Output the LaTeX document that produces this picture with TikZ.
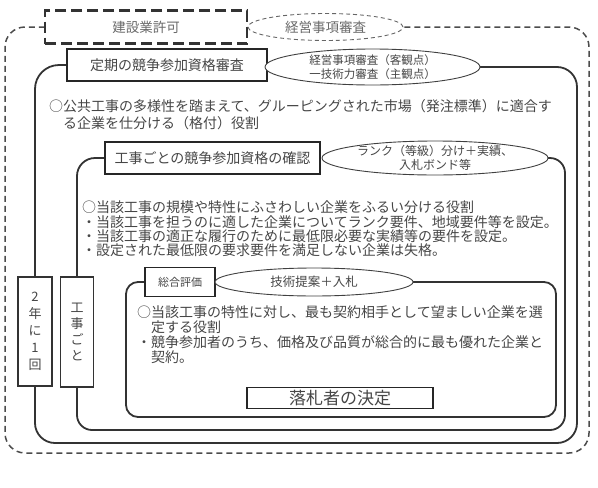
\documentclass[tikz,border=0pt]{standalone}
\usepackage{fontspec}
\setmainfont{Noto Sans CJK JP}
\usetikzlibrary{shapes.geometric}
\definecolor{ink}{HTML}{464646}
\definecolor{linec}{HTML}{333333}
\definecolor{pale}{HTML}{6A6A6A}
\tikzset{
  body/.style={anchor=west, inner sep=0pt, text=ink, font=\fontsize{14}{14}\selectfont},
  boxnode/.style={draw=black!85, line width=1.8pt, fill=white, inner sep=0pt, text=ink},
  ellnode/.style={ellipse, draw=black!75, line width=0.9pt, fill=white, inner sep=0pt},
  lvl/.style={draw=linec, line width=1.8pt},
  outerline/.style={draw=black!70, line width=1.5pt, dash pattern=on 6pt off 4pt},
  vbox/.style={draw=black!80, line width=1.6pt, fill=white, inner sep=1pt, align=center, text=ink, font=\fontsize{13}{17}\selectfont}
}
\begin{document}
\begin{tikzpicture}[x=1pt,y=-1pt]
\useasboundingbox (0,0) rectangle (598,488);

% centres of the main nodes
\coordinate (pb0) at (146,27);
\coordinate (pe0) at (325.5,27);
\coordinate (pb1) at (167,65);
\coordinate (pe1) at (372.5,67);
\coordinate (pb2) at (212.5,158);
\coordinate (pe2) at (435,158);
\coordinate (pb3) at (180,282);
\coordinate (pe3) at (314,282);

% invisible placeholders that give the connectors their anchors
\node[ellipse, inner sep=0pt, minimum width=155pt, minimum height=27pt] (e0) at (pe0) {};
\node[inner sep=0pt, minimum width=202pt, minimum height=33pt] (b0) at (pb0) {};
\node[inner sep=0pt, minimum width=200pt, minimum height=32pt] (b1) at (pb1) {};
\node[ellipse, inner sep=0pt, minimum width=215pt, minimum height=36pt] (e1) at (pe1) {};
\node[inner sep=0pt, minimum width=215pt, minimum height=32pt] (b2) at (pb2) {};
\node[ellipse, inner sep=0pt, minimum width=226pt, minimum height=34pt] (e2) at (pe2) {};
\node[inner sep=0pt, minimum width=70pt, minimum height=29pt] (b3) at (pb3) {};
\node[ellipse, inner sep=0pt, minimum width=198pt, minimum height=28pt] (e3) at (pe3) {};
\node[inner sep=0pt, minimum width=34pt, minimum height=109pt] (v1) at (35,331.5) {};
\node[inner sep=0pt, minimum width=33pt, minimum height=110pt] (v2) at (77,332) {};

% connectors
\draw[outerline, rounded corners=20pt] (b0.west) -- (5,27) -- (5,453) -- (589,453) -- (589,27) -- (e0.east);
\draw[lvl, rounded corners=24pt] (b1.west) -- (35,65) -- (v1.north);
\draw[lvl, rounded corners=20pt] (v1.south) -- (35,443) -- (577,443) -- (577,67) -- (e1.east);
\draw[lvl, rounded corners=18pt] (b2.west) -- (77,158) -- (v2.north);
\draw[lvl, rounded corners=15pt] (v2.south) -- (77,430) -- (565,430) -- (565,158) -- (e2.east);
\draw[lvl, rounded corners=12pt] (b3.west) -- (126,282) -- (126,417) -- (556,417) -- (556,282) -- (e3.east);

% visible shapes
\node[draw=black!80, line width=2.4pt, dash pattern=on 11pt off 5pt, fill=white, inner sep=0pt,
      minimum width=202pt, minimum height=33pt, text=pale, font=\fontsize{13.5}{13.5}\selectfont]
      (b0s) at (pb0) {建設業許可};
\node[ellipse, draw=black!60, line width=0.9pt, dash pattern=on 4pt off 3pt, fill=white, inner sep=0pt,
      minimum width=155pt, minimum height=27pt] (e0s) at (pe0) {};
\node[text=pale, font=\fontsize{13.5}{13.5}\selectfont, inner sep=0pt] (e0t) at (pe0) {経営事項審査};

\node[boxnode, minimum width=200pt, minimum height=32pt, font=\fontsize{14}{14}\selectfont] (b1s) at (pb1) {定期の競争参加資格審査};
\node[ellnode, minimum width=215pt, minimum height=36pt] (e1s) at (pe1) {};
\node[align=center, inner sep=0pt, text=ink, font=\fontsize{11.5}{14.5}\selectfont] (e1t) at (pe1) {経営事項審査（客観点）\\一技術力審査（主観点）};

\node[boxnode, minimum width=215pt, minimum height=32pt, font=\fontsize{14}{14}\selectfont] (b2s) at (pb2) {工事ごとの競争参加資格の確認};
\node[ellnode, minimum width=226pt, minimum height=34pt] (e2s) at (pe2) {};
\node[align=center, inner sep=0pt, text=ink, font=\fontsize{12}{14.5}\selectfont] (e2t) at (pe2) {ランク（等級）分け＋実績、\\入札ボンド等};

\node[boxnode, minimum width=70pt, minimum height=29pt, font=\fontsize{11}{11}\selectfont] (b3s) at (pb3) {総合評価};
\node[ellnode, minimum width=198pt, minimum height=28pt] (e3s) at (pe3) {};
\node[inner sep=0pt, text=ink, font=\fontsize{12.5}{12.5}\selectfont] (e3t) at (pe3) {技術提案＋入札};

\node[vbox, minimum width=34pt, minimum height=109pt] (v1s) at (35,331.5) {2\\年\\に\\1\\回};
\node[vbox, minimum width=33pt, minimum height=110pt, font=\fontsize{13}{16}\selectfont] (v2s) at (77,332) {工\\事\\ご\\と};

\node[boxnode, minimum width=186pt, minimum height=21pt, font=\fontsize{17}{17}\selectfont] (b4) at (340,398) {落札者の決定};

% body text
\node[body] (t1a) at (49,106) {○公共工事の多様性を踏まえて、グルーピングされた市場（発注標準）に適合す};
\node[body] (t1b) at (63,123) {る企業を仕分ける（格付）役割};

\node[body] (t2a) at (82,207) {○当該工事の規模や特性にふさわしい企業をふるい分ける役割};
\node[body] (t2b) at (82,222) {・当該工事を担うのに適した企業についてランク要件、地域要件等を設定。};
\node[body] (t2c) at (82,236) {・当該工事の適正な履行のために最低限必要な実績等の要件を設定。};
\node[body] (t2d) at (82,250) {・設定された最低限の要求要件を満足しない企業は失格。};

\node[body] (t3a) at (137,312) {○当該工事の特性に対し、最も契約相手として望ましい企業を選};
\node[body] (t3b) at (151,327) {定する役割};
\node[body] (t3c) at (137,342) {・競争参加者のうち、価格及び品質が総合的に最も優れた企業と};
\node[body] (t3d) at (151,357) {契約。};
\end{tikzpicture}
\end{document}
